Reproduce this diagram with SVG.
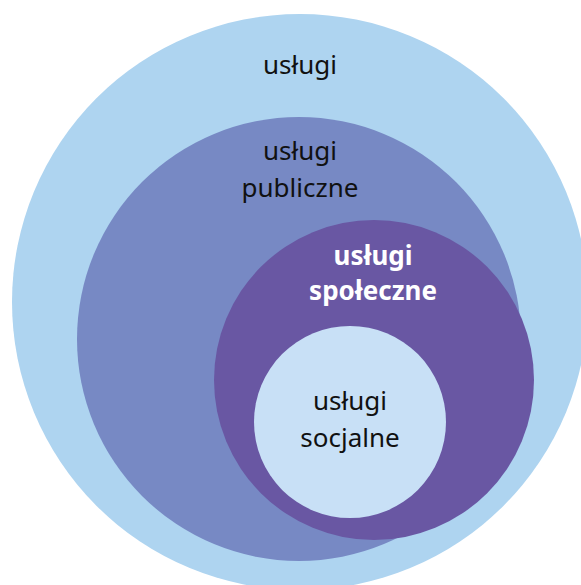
<svg xmlns="http://www.w3.org/2000/svg" width="581" height="585" viewBox="0 0 581 585">
<style>
.t{font-family:"Noto Sans","Open Sans",sans-serif;font-size:26px;fill:#111;text-anchor:middle}
.b{font-weight:bold;fill:#fff}
</style>
<rect width="581" height="585" fill="#fff"/>
<g id="uslugi"><circle cx="300" cy="302" r="288" fill="#aed4f0"/><text class="t" x="300" y="74">usługi</text></g>
<g id="publiczne"><circle cx="299" cy="339" r="222" fill="#7789c4"/><text class="t" x="300" y="160">usługi</text><text class="t" x="300" y="197">publiczne</text></g>
<g id="spoleczne"><circle cx="374" cy="380" r="160" fill="#6957a3"/><text class="t b" x="373" y="265">usługi</text><text class="t b" x="373" y="300">społeczne</text></g>
<g id="socjalne"><circle cx="350" cy="422" r="96" fill="#c8e0f6"/><text class="t" x="350" y="410">usługi</text><text class="t" x="350" y="447">socjalne</text></g>
<g id="connectors"/>
</svg>
